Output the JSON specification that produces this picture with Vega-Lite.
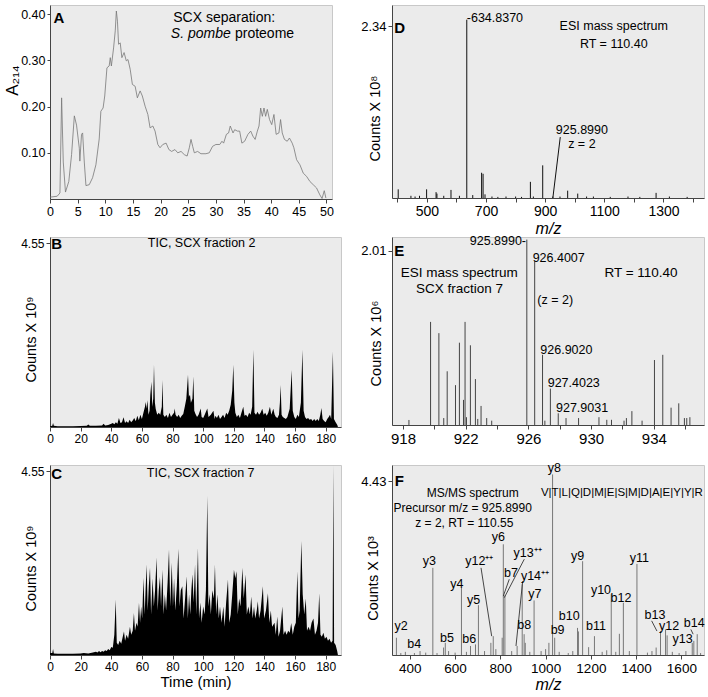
{
  "$schema": "https://vega.github.io/schema/vega-lite/v6.json",
  "padding": {"left": 2, "top": 4, "right": 0, "bottom": 0},
  "background": "white",
  "columns": 2,
  "spacing": {"row": 38, "column": 51},
  "bounds": "flush",
  "config": {
    "font": "Liberation Sans, sans-serif",
    "view": {"fill": "#ebebeb", "stroke": "#c8c8c8", "strokeWidth": 1},
    "axis": {"labelFont": "Liberation Sans, sans-serif", "titleFont": "Liberation Sans, sans-serif", "labelFontSize": 12, "titleFontSize": 14.5, "titleFontWeight": "normal", "labelColor": "#000", "titleColor": "#000", "domainColor": "#444", "tickColor": "#444", "tickSize": 4, "labelPadding": 2, "grid": false, "labelFlush": false, "labelOverlap": false},
    "text": {"font": "Liberation Sans, sans-serif", "fontSize": 12, "color": "#000"}
  },
  "concat": [
    {
      "width": 282, "height": 194,
      "encoding": {
        "x": {"field": "t", "type": "quantitative", "scale": {"domain": [0, 51], "nice": false, "zero": false}, "axis": {"values": [0,5,10,15,20,25,30,35,40,45,50], "format": "d", "title": null, "labelFontSize": 12.5}},
        "y": {"field": "a", "type": "quantitative", "scale": {"domain": [0, 0.42], "nice": false}, "axis": {"values": [0.1,0.2,0.3,0.4], "format": ".2f", "labelFontSize": 12.5, "tickSize": 3, "title": "A₂₁₄", "titleX": -38, "titleY": 75, "titleBaseline": "middle", "titleFontSize": 17}}
      },
      "layer": [
        {"data": {"values": [{"t":0,"a":0.004},{"t":1.3,"a":0.006},{"t":1.8,"a":0.013},{"t":2.1,"a":0.219},{"t":2.4,"a":0.08},{"t":2.8,"a":0.015},{"t":3.4,"a":0.038},{"t":3.9,"a":0.096},{"t":4.4,"a":0.18},{"t":4.8,"a":0.16},{"t":5.3,"a":0.11},{"t":5.4,"a":0.082},{"t":5.7,"a":0.14},{"t":5.9,"a":0.143},{"t":6.2,"a":0.08},{"t":6.5,"a":0.029},{"t":7.1,"a":0.031},{"t":7.7,"a":0.046},{"t":8.3,"a":0.074},{"t":8.9,"a":0.13},{"t":9.2,"a":0.19},{"t":9.6,"a":0.197},{"t":9.9,"a":0.223},{"t":10.3,"a":0.284},{"t":10.7,"a":0.288},{"t":10.9,"a":0.306},{"t":11.1,"a":0.288},{"t":11.5,"a":0.327},{"t":11.8,"a":0.364},{"t":12.0,"a":0.407},{"t":12.2,"a":0.385},{"t":12.4,"a":0.335},{"t":12.7,"a":0.338},{"t":13.0,"a":0.306},{"t":13.4,"a":0.317},{"t":13.8,"a":0.299},{"t":14.1,"a":0.302},{"t":14.5,"a":0.281},{"t":14.9,"a":0.248},{"t":15.4,"a":0.244},{"t":15.8,"a":0.219},{"t":16.3,"a":0.234},{"t":16.7,"a":0.223},{"t":17.2,"a":0.201},{"t":17.7,"a":0.183},{"t":18.1,"a":0.154},{"t":18.6,"a":0.158},{"t":19.0,"a":0.147},{"t":19.5,"a":0.118},{"t":19.9,"a":0.111},{"t":20.4,"a":0.118},{"t":21.0,"a":0.121},{"t":21.5,"a":0.107},{"t":22.0,"a":0.103},{"t":22.6,"a":0.107},{"t":23.1,"a":0.1},{"t":23.7,"a":0.103},{"t":24.3,"a":0.096},{"t":24.8,"a":0.093},{"t":25.2,"a":0.111},{"t":25.5,"a":0.129},{"t":25.8,"a":0.114},{"t":26.1,"a":0.1},{"t":26.7,"a":0.103},{"t":27.3,"a":0.098},{"t":28.2,"a":0.098},{"t":28.8,"a":0.1},{"t":29.4,"a":0.114},{"t":30.0,"a":0.118},{"t":30.7,"a":0.118},{"t":31.1,"a":0.125},{"t":31.4,"a":0.121},{"t":31.9,"a":0.14},{"t":32.3,"a":0.143},{"t":32.6,"a":0.158},{"t":33.1,"a":0.143},{"t":33.4,"a":0.15},{"t":33.9,"a":0.147},{"t":34.3,"a":0.147},{"t":34.7,"a":0.121},{"t":35.2,"a":0.125},{"t":35.8,"a":0.14},{"t":36.3,"a":0.147},{"t":36.7,"a":0.136},{"t":37.1,"a":0.129},{"t":37.5,"a":0.147},{"t":37.8,"a":0.158},{"t":38.1,"a":0.197},{"t":38.4,"a":0.179},{"t":38.7,"a":0.197},{"t":39.0,"a":0.179},{"t":39.3,"a":0.194},{"t":39.7,"a":0.172},{"t":40.1,"a":0.161},{"t":40.5,"a":0.183},{"t":40.9,"a":0.14},{"t":41.4,"a":0.143},{"t":41.7,"a":0.172},{"t":42.0,"a":0.143},{"t":42.4,"a":0.129},{"t":42.9,"a":0.125},{"t":43.3,"a":0.132},{"t":43.8,"a":0.121},{"t":44.1,"a":0.111},{"t":44.6,"a":0.085},{"t":45.2,"a":0.074},{"t":45.8,"a":0.056},{"t":46.4,"a":0.049},{"t":47.0,"a":0.038},{"t":47.6,"a":0.031},{"t":48.2,"a":0.024},{"t":48.8,"a":0.009},{"t":49.2,"a":0.001},{"t":49.6,"a":0.018},{"t":49.9,"a":0.002}]},
         "mark": {"type": "line", "color": "#777", "strokeWidth": 0.8}},
        {"data": {"values": [{"t":1.63,"a":0.392,"s":"A"}]}, "mark": {"type": "text", "fontWeight": "bold", "fontSize": 15}, "encoding": {"text": {"field": "s"}}},
        {"data": {"values": [{"t":31.5,"a":0.3925,"s":"SCX separation:"}]}, "mark": {"type": "text", "fontSize": 14}, "encoding": {"text": {"field": "s"}}},
        {"data": {"values": [{"t":32.7,"a":0.3566,"s":"S. pombe"}]}, "mark": {"type": "text", "fontSize": 14, "fontStyle": "italic", "align": "right"}, "encoding": {"text": {"field": "s"}}},
        {"data": {"values": [{"t":33.45,"a":0.3566,"s":"proteome"}]}, "mark": {"type": "text", "fontSize": 14, "align": "left"}, "encoding": {"text": {"field": "s"}}}
      ]
    },
    {
      "width": 312, "height": 193,
      "encoding": {
        "x": {"field": "mz", "type": "quantitative", "scale": {"domain": [382, 1437], "nice": false, "zero": false}, "axis": {"values": [400,500,600,700,800,900,1000,1100,1200,1300,1400], "format": "d", "labelExpr": "datum.value % 200 == 100 ? datum.label : ''", "labelFontSize": 14, "title": "m/z", "titleFontStyle": "italic", "titleY": 35, "titleBaseline": "alphabetic", "titleFontSize": 16}},
        "y": {"field": "v", "type": "quantitative", "scale": {"domain": [0, 2.63], "nice": false}, "axis": {"values": [2.34], "format": ".2f", "labelFontSize": 13, "title": "Counts X 10⁸", "titleX": -17, "titleY": 113, "titleBaseline": "middle"}}
      },
      "layer": [
        {"data": {"values": [{"mz":403,"v":0.118},{"mz":446,"v":0.03},{"mz":460,"v":0.02},{"mz":475,"v":0.03},{"mz":499,"v":0.118},{"mz":531,"v":0.08},{"mz":534,"v":0.06},{"mz":557,"v":0.03},{"mz":581.5,"v":0.11},{"mz":610,"v":0.03},{"mz":634.837,"v":2.43},{"mz":655,"v":0.04},{"mz":685,"v":0.344},{"mz":690,"v":0.33},{"mz":696.5,"v":0.05},{"mz":720,"v":0.02},{"mz":740,"v":0.015},{"mz":767.5,"v":0.02},{"mz":800,"v":0.02},{"mz":820,"v":0.015},{"mz":850,"v":0.22},{"mz":860,"v":0.02},{"mz":891.6,"v":0.445},{"mz":925.899,"v":0.02},{"mz":950,"v":0.02},{"mz":976,"v":0.1},{"mz":1010,"v":0.06},{"mz":1040,"v":0.02},{"mz":1063,"v":0.02},{"mz":1120,"v":0.015},{"mz":1180,"v":0.02},{"mz":1220,"v":0.015},{"mz":1275,"v":0.07},{"mz":1320,"v":0.02},{"mz":1380,"v":0.015}]},
         "mark": {"type": "rule", "color": "#111", "strokeWidth": 1}, "encoding": {"y2": {"datum": 0}}},
        {"data": {"values": [{"mz":951,"v":0.83,"mz2":925.9,"v2":0}]}, "mark": {"type": "rule", "color": "#111", "strokeWidth": 1}, "encoding": {"x2": {"field": "mz2"}, "y2": {"field": "v2"}}},
        {"data": {"values": [{"mz":408,"v":2.317,"s":"D"}]}, "mark": {"type": "text", "fontWeight": "bold", "fontSize": 15}, "encoding": {"text": {"field": "s"}}},
        {"data": {"values": [{"mz":634.837,"v":2.45,"s":"-634.8370"}]}, "mark": {"type": "text", "fontSize": 12.5, "align": "left"}, "encoding": {"text": {"field": "s"}}},
        {"data": {"values": [{"mz":1132,"v":2.34,"s":"ESI mass spectrum"},{"mz":1132,"v":2.1,"s":"RT = 110.40"},{"mz":1024,"v":0.92,"s":"925.8990"},{"mz":1024,"v":0.74,"s":"z = 2"}]}, "mark": {"type": "text", "fontSize": 12.5}, "encoding": {"text": {"field": "s"}}}
      ]
    },
    {
      "width": 291, "height": 190,
      "encoding": {
        "x": {"field": "t", "type": "quantitative", "scale": {"domain": [0, 190], "nice": false, "zero": false}, "axis": {"values": [0,20,40,60,80,100,120,140,160,180], "format": "d", "title": null, "labelFontSize": 12}},
        "y": {"field": "v", "type": "quantitative", "scale": {"domain": [0, 4.7], "nice": false}, "axis": {"values": [4.55], "format": ".2f", "labelFontSize": 12, "title": "Counts X 10⁹", "titleX": -19, "titleY": 102, "titleBaseline": "middle"}}
      },
      "layer": [
        {"data": {"values": [{"t":0,"v":0.02},{"t":1.5,"v":0.03},{"t":2,"v":0.1},{"t":2.5,"v":0.03},{"t":5,"v":0.02},{"t":10,"v":0.02},{"t":15,"v":0.02},{"t":20,"v":0.025},{"t":24,"v":0.03},{"t":25,"v":0.06},{"t":26,"v":0.03},{"t":30,"v":0.03},{"t":34,"v":0.04},{"t":35,"v":0.08},{"t":36,"v":0.04},{"t":38,"v":0.05},{"t":40,"v":0.08},{"t":41,"v":0.1},{"t":42,"v":0.07},{"t":43,"v":0.12},{"t":44,"v":0.08},{"t":45,"v":0.22},{"t":46,"v":0.1},{"t":47,"v":0.12},{"t":48,"v":0.24},{"t":49,"v":0.1},{"t":50,"v":0.14},{"t":51,"v":0.1},{"t":52,"v":0.18},{"t":53,"v":0.12},{"t":54,"v":0.16},{"t":55,"v":0.22},{"t":56,"v":0.14},{"t":57,"v":0.28},{"t":58,"v":0.17},{"t":59,"v":0.3},{"t":60,"v":0.2},{"t":61,"v":0.35},{"t":62,"v":0.5},{"t":62.5,"v":0.62},{"t":63,"v":0.45},{"t":63.6,"v":0.66},{"t":64.3,"v":0.3},{"t":65,"v":0.4},{"t":65.5,"v":0.8},{"t":66.2,"v":1.12},{"t":66.8,"v":0.5},{"t":67.4,"v":0.7},{"t":67.9,"v":1.54},{"t":68.5,"v":0.6},{"t":69,"v":0.45},{"t":70,"v":0.3},{"t":71,"v":0.35},{"t":72,"v":0.3},{"t":73,"v":0.5},{"t":73.4,"v":1.16},{"t":74,"v":0.3},{"t":75,"v":0.25},{"t":76,"v":0.3},{"t":77,"v":0.22},{"t":78,"v":0.35},{"t":79,"v":0.25},{"t":80,"v":0.3},{"t":81,"v":0.35},{"t":81.4,"v":0.46},{"t":82,"v":0.3},{"t":83,"v":0.25},{"t":84,"v":0.3},{"t":85,"v":0.22},{"t":86,"v":0.28},{"t":87,"v":0.32},{"t":88,"v":0.5},{"t":89,"v":0.7},{"t":90.1,"v":1.29},{"t":90.7,"v":0.75},{"t":91.4,"v":0.8},{"t":92,"v":0.6},{"t":93,"v":0.7},{"t":93.6,"v":1.25},{"t":94.2,"v":0.4},{"t":95,"v":0.32},{"t":96,"v":0.25},{"t":97,"v":0.3},{"t":98.4,"v":0.46},{"t":99,"v":0.25},{"t":100,"v":0.22},{"t":101,"v":0.3},{"t":102.7,"v":0.46},{"t":103.5,"v":0.25},{"t":105,"v":0.3},{"t":106.7,"v":0.4},{"t":107.5,"v":0.2},{"t":108,"v":0.28},{"t":109,"v":0.22},{"t":110,"v":0.3},{"t":111,"v":0.2},{"t":112,"v":0.25},{"t":113,"v":0.3},{"t":114,"v":0.22},{"t":115,"v":0.35},{"t":116,"v":0.3},{"t":117,"v":0.4},{"t":118,"v":0.55},{"t":119,"v":0.9},{"t":119.7,"v":1.54},{"t":120.4,"v":0.6},{"t":121,"v":0.35},{"t":122,"v":0.25},{"t":123,"v":0.3},{"t":124,"v":0.22},{"t":125,"v":0.35},{"t":126.2,"v":0.5},{"t":127,"v":0.28},{"t":128,"v":0.3},{"t":129,"v":0.25},{"t":130,"v":0.35},{"t":131,"v":0.3},{"t":132,"v":0.5},{"t":132.8,"v":1.91},{"t":133.5,"v":0.35},{"t":134.5,"v":0.3},{"t":135.5,"v":0.38},{"t":136.5,"v":0.3},{"t":137.5,"v":0.35},{"t":138.6,"v":0.45},{"t":139.5,"v":0.3},{"t":140.5,"v":0.35},{"t":141.5,"v":0.28},{"t":142.5,"v":0.35},{"t":143.6,"v":0.5},{"t":144.5,"v":0.3},{"t":145.8,"v":0.45},{"t":146.7,"v":0.3},{"t":147.5,"v":0.25},{"t":148.5,"v":0.22},{"t":149.5,"v":0.3},{"t":150.1,"v":0.6},{"t":150.6,"v":1.04},{"t":151.2,"v":0.3},{"t":152,"v":0.25},{"t":153,"v":0.22},{"t":154,"v":0.2},{"t":155,"v":0.25},{"t":156.5,"v":0.45},{"t":157.8,"v":1.41},{"t":158.5,"v":0.4},{"t":159.5,"v":0.25},{"t":160.5,"v":0.2},{"t":161.5,"v":0.3},{"t":162.5,"v":0.25},{"t":163.8,"v":0.6},{"t":164.8,"v":1.91},{"t":165.6,"v":0.4},{"t":166.5,"v":0.25},{"t":167.5,"v":0.2},{"t":168.5,"v":0.22},{"t":169.5,"v":0.18},{"t":170.5,"v":0.2},{"t":171.5,"v":0.15},{"t":172.5,"v":0.2},{"t":173.5,"v":0.15},{"t":174.5,"v":0.2},{"t":175.5,"v":0.15},{"t":176.5,"v":0.3},{"t":177.2,"v":0.47},{"t":178,"v":0.2},{"t":179,"v":0.15},{"t":180,"v":0.12},{"t":181,"v":0.2},{"t":182,"v":0.25},{"t":182.8,"v":0.3},{"t":183.6,"v":0.2},{"t":184.7,"v":1.87},{"t":185.4,"v":0.2},{"t":186.5,"v":0.12},{"t":187.6,"v":0.05},{"t":188,"v":0}]},
         "mark": {"type": "area", "color": "#000", "interpolate": "linear"}},
        {"data": {"values": [{"t":4.4,"v":4.53,"s":"B"}]}, "mark": {"type": "text", "fontWeight": "bold", "fontSize": 15}, "encoding": {"text": {"field": "s"}}},
        {"data": {"values": [{"t":99,"v":4.56,"s":"TIC, SCX fraction 2"}]}, "mark": {"type": "text", "fontSize": 12.5}, "encoding": {"text": {"field": "s"}}}
      ]
    },
    {
      "width": 312, "height": 188,
      "encoding": {
        "x": {"field": "mz", "type": "quantitative", "scale": {"domain": [917.3, 937.2], "nice": false, "zero": false}, "axis": {"values": [918,920,922,924,926,928,930,932,934,936], "format": "d", "labelExpr": "(datum.value - 918) % 4 == 0 ? datum.label : ''", "labelFontSize": 15, "title": null}},
        "y": {"field": "v", "type": "quantitative", "scale": {"domain": [0, 2.17], "nice": false}, "axis": {"values": [2.01], "format": ".2f", "labelFontSize": 13, "title": "Counts X 10⁶", "titleX": -16, "titleY": 106, "titleBaseline": "middle"}}
      },
      "layer": [
        {"data": {"values": [{"mz":918.38,"v":0.058},{"mz":919.76,"v":1.19},{"mz":920.29,"v":1.06},{"mz":920.6,"v":0.08},{"mz":920.82,"v":0.62},{"mz":921.35,"v":0.46},{"mz":921.6,"v":0.95},{"mz":921.86,"v":0.29},{"mz":921.96,"v":1.19},{"mz":922.05,"v":0.09},{"mz":922.3,"v":0.92},{"mz":922.62,"v":0.53},{"mz":922.77,"v":0.07},{"mz":922.98,"v":0.22},{"mz":923.34,"v":0.08},{"mz":923.66,"v":0.05},{"mz":925.899,"v":2.14},{"mz":926.4007,"v":1.89},{"mz":926.902,"v":0.81},{"mz":927.05,"v":0.05},{"mz":927.4023,"v":0.42},{"mz":927.9031,"v":0.135},{"mz":928.4,"v":0.08},{"mz":929.2,"v":0.08},{"mz":930.5,"v":0.09},{"mz":931.0,"v":0.06},{"mz":931.3,"v":0.06},{"mz":932.1,"v":0.05},{"mz":932.25,"v":0.08},{"mz":932.6,"v":0.16},{"mz":933.25,"v":0.05},{"mz":934.04,"v":0.75},{"mz":934.57,"v":0.81},{"mz":935.1,"v":0.2},{"mz":935.59,"v":0.25},{"mz":935.95,"v":0.08},{"mz":936.1,"v":0.08},{"mz":936.3,"v":0.09}]},
         "mark": {"type": "rule", "color": "#444", "strokeWidth": 1}, "encoding": {"y2": {"datum": 0}}},
        {"data": {"values": [{"mz":917.77,"v":2.01,"s":"E"}]}, "mark": {"type": "text", "fontWeight": "bold", "fontSize": 15}, "encoding": {"text": {"field": "s"}}},
        {"data": {"values": [{"mz":925.85,"v":2.12,"s":"925.8990-"}]}, "mark": {"type": "text", "fontSize": 12.5, "align": "right"}, "encoding": {"text": {"field": "s"}}},
        {"data": {"values": [{"mz":926.27,"v":1.93,"s":"926.4007"},{"mz":926.76,"v":0.87,"s":"926.9020"},{"mz":927.23,"v":0.49,"s":"927.4023"},{"mz":927.76,"v":0.2,"s":"927.9031"}]}, "mark": {"type": "text", "fontSize": 12.5, "align": "left"}, "encoding": {"text": {"field": "s"}}},
        {"data": {"values": [{"mz":927.71,"v":1.44,"s":"(z = 2)"}]}, "mark": {"type": "text", "fontSize": 12.5}, "encoding": {"text": {"field": "s"}}},
        {"data": {"values": [{"mz":921.59,"v":1.76,"s":"ESI mass spectrum"},{"mz":921.6,"v":1.57,"s":"SCX fraction 7"},{"mz":933.18,"v":1.76,"s":"RT = 110.40"}]}, "mark": {"type": "text", "fontSize": 13.5}, "encoding": {"text": {"field": "s"}}}
      ]
    },
    {
      "width": 291, "height": 190,
      "encoding": {
        "x": {"field": "t", "type": "quantitative", "scale": {"domain": [0, 190], "nice": false, "zero": false}, "axis": {"values": [0,20,40,60,80,100,120,140,160,180], "format": "d", "labelFontSize": 12, "title": "Time (min)", "titleY": 31, "titleBaseline": "alphabetic", "titleFontSize": 15}},
        "y": {"field": "v", "type": "quantitative", "scale": {"domain": [0, 4.7], "nice": false}, "axis": {"values": [4.55], "format": ".2f", "labelFontSize": 12, "title": "Counts X 10⁹", "titleX": -19, "titleY": 103, "titleBaseline": "middle"}}
      },
      "layer": [
        {"data": {"values": [{"t":0,"v":0.05},{"t":1.5,"v":0.05},{"t":2,"v":0.15},{"t":2.5,"v":0.04},{"t":5,"v":0.03},{"t":10,"v":0.03},{"t":15,"v":0.03},{"t":20,"v":0.04},{"t":22,"v":0.05},{"t":25,"v":0.04},{"t":28,"v":0.06},{"t":30,"v":0.08},{"t":31,"v":0.06},{"t":32,"v":0.1},{"t":33,"v":0.07},{"t":34,"v":0.1},{"t":35,"v":0.08},{"t":36,"v":0.12},{"t":37,"v":0.1},{"t":38,"v":0.15},{"t":39,"v":0.12},{"t":40,"v":0.2},{"t":41,"v":0.18},{"t":42,"v":0.5},{"t":42.9,"v":1.37},{"t":43.6,"v":0.3},{"t":44.5,"v":0.25},{"t":45.5,"v":0.35},{"t":46.5,"v":0.28},{"t":47.5,"v":0.45},{"t":48.3,"v":0.58},{"t":49,"v":0.35},{"t":50,"v":0.5},{"t":51,"v":0.4},{"t":52.2,"v":0.7},{"t":53,"v":0.5},{"t":54,"v":0.6},{"t":54.8,"v":1.04},{"t":55.5,"v":0.6},{"t":56.5,"v":0.8},{"t":57.2,"v":0.7},{"t":58.1,"v":1.29},{"t":58.8,"v":0.8},{"t":59.5,"v":1.2},{"t":60.2,"v":0.9},{"t":61,"v":1.91},{"t":61.8,"v":1.0},{"t":62.4,"v":1.6},{"t":63.1,"v":2.24},{"t":63.8,"v":1.1},{"t":64.5,"v":1.7},{"t":65.3,"v":2.16},{"t":66,"v":1.0},{"t":67,"v":1.9},{"t":67.8,"v":1.2},{"t":68.6,"v":1.6},{"t":69.6,"v":2.41},{"t":70.3,"v":1.1},{"t":71,"v":1.6},{"t":71.8,"v":1.93},{"t":72.5,"v":1.2},{"t":73.4,"v":2.11},{"t":74.2,"v":1.0},{"t":75,"v":1.5},{"t":75.8,"v":1.1},{"t":76.8,"v":1.8},{"t":77.7,"v":2.61},{"t":78.5,"v":1.2},{"t":79.5,"v":2.28},{"t":80.3,"v":1.2},{"t":81,"v":1.9},{"t":81.8,"v":1.1},{"t":82.8,"v":1.7},{"t":83.8,"v":2.63},{"t":84.6,"v":1.2},{"t":85.4,"v":1.6},{"t":86.4,"v":1.7},{"t":87.2,"v":0.9},{"t":88.2,"v":1.4},{"t":89.2,"v":1.95},{"t":90,"v":0.9},{"t":90.8,"v":1.5},{"t":91.6,"v":1.0},{"t":92.3,"v":1.6},{"t":93,"v":2.0},{"t":93.8,"v":1.3},{"t":94.7,"v":2.24},{"t":95.5,"v":1.0},{"t":96.6,"v":2.65},{"t":97.3,"v":0.9},{"t":98.2,"v":1.3},{"t":99,"v":0.8},{"t":100,"v":1.2},{"t":101,"v":1.0},{"t":101.8,"v":1.6},{"t":102.7,"v":3.94},{"t":103.4,"v":1.2},{"t":104.3,"v":1.5},{"t":105,"v":1.0},{"t":106,"v":1.6},{"t":107,"v":1.4},{"t":107.7,"v":2.24},{"t":108.5,"v":1.0},{"t":109.3,"v":1.5},{"t":110.2,"v":0.9},{"t":111,"v":1.2},{"t":112,"v":0.8},{"t":113.2,"v":1.2},{"t":114,"v":0.7},{"t":115,"v":1.3},{"t":116.2,"v":1.87},{"t":117,"v":0.8},{"t":118,"v":1.0},{"t":119,"v":1.5},{"t":120.1,"v":2.11},{"t":121,"v":1.9},{"t":121.8,"v":2.07},{"t":122.6,"v":1.0},{"t":123.5,"v":1.4},{"t":124.4,"v":1.2},{"t":125.6,"v":2.16},{"t":126.5,"v":1.4},{"t":127.7,"v":1.99},{"t":128.5,"v":1.0},{"t":129.5,"v":1.2},{"t":130.5,"v":1.0},{"t":131.4,"v":1.45},{"t":132.3,"v":0.9},{"t":133.2,"v":1.2},{"t":134,"v":0.9},{"t":135,"v":1.1},{"t":135.7,"v":1.33},{"t":136.5,"v":0.9},{"t":137.5,"v":1.1},{"t":139,"v":1.7},{"t":139.8,"v":0.9},{"t":141,"v":1.1},{"t":142.3,"v":1.53},{"t":143.2,"v":0.8},{"t":144.2,"v":1.1},{"t":145,"v":0.7},{"t":146.6,"v":0.8},{"t":147.4,"v":0.5},{"t":148.4,"v":0.95},{"t":149.2,"v":0.45},{"t":150.2,"v":0.6},{"t":151.7,"v":1.2},{"t":152.5,"v":0.5},{"t":153.5,"v":0.6},{"t":154.5,"v":0.5},{"t":155.5,"v":0.6},{"t":156.5,"v":0.55},{"t":157.5,"v":0.79},{"t":158.5,"v":0.5},{"t":159.5,"v":0.7},{"t":160.5,"v":0.8},{"t":161.5,"v":2.07},{"t":162.3,"v":0.9},{"t":163,"v":1.1},{"t":164.1,"v":2.82},{"t":165,"v":1.5},{"t":166,"v":1.0},{"t":167,"v":1.4},{"t":167.8,"v":0.6},{"t":168.8,"v":0.7},{"t":169.8,"v":0.6},{"t":170.8,"v":0.8},{"t":172,"v":0.9},{"t":173,"v":0.5},{"t":174,"v":0.6},{"t":175,"v":0.8},{"t":175.8,"v":1.53},{"t":176.6,"v":0.5},{"t":177.5,"v":0.45},{"t":178.5,"v":0.55},{"t":179.5,"v":0.4},{"t":180.5,"v":0.45},{"t":181.5,"v":0.35},{"t":182.5,"v":0.4},{"t":183.5,"v":0.3},{"t":184.5,"v":0.35},{"t":185,"v":4.7},{"t":185.5,"v":0.3},{"t":186.5,"v":0.25},{"t":187.5,"v":0.1},{"t":188,"v":0}]},
         "mark": {"type": "area", "color": "#000", "interpolate": "linear"}},
        {"data": {"values": [{"t":4.4,"v":4.48,"s":"C"}]}, "mark": {"type": "text", "fontWeight": "bold", "fontSize": 15}, "encoding": {"text": {"field": "s"}}},
        {"data": {"values": [{"t":98.4,"v":4.51,"s":"TIC, SCX fraction 7"}]}, "mark": {"type": "text", "fontSize": 12.5}, "encoding": {"text": {"field": "s"}}}
      ]
    },
    {
      "width": 312, "height": 190,
      "encoding": {
        "x": {"field": "mz", "type": "quantitative", "scale": {"domain": [321, 1700], "nice": false, "zero": false}, "axis": {"values": [400,600,800,1000,1200,1400,1600], "format": "d", "labelFontSize": 13.5, "title": "m/z", "titleFontStyle": "italic", "titleY": 34, "titleBaseline": "alphabetic", "titleFontSize": 16}},
        "y": {"field": "v", "type": "quantitative", "scale": {"domain": [0, 4.84], "nice": false}, "axis": {"values": [4.43], "format": ".2f", "labelFontSize": 13, "title": "Counts X 10³", "titleX": -19, "titleY": 113, "titleBaseline": "middle"}}
      },
      "layer": [
        {"data": {"values": [{"mz":340.5,"v":0.44},{"mz":360,"v":0.05},{"mz":380,"v":0.08},{"mz":420,"v":0.05},{"mz":445,"v":0.1},{"mz":470,"v":0.06},{"mz":501.5,"v":2.22},{"mz":520,"v":0.05},{"mz":549,"v":0.19},{"mz":556.5,"v":0.31},{"mz":571,"v":0.1},{"mz":600,"v":0.06},{"mz":628,"v":1.71},{"mz":650,"v":0.08},{"mz":668,"v":0.23},{"mz":690,"v":0.27},{"mz":703,"v":1.27},{"mz":730,"v":0.1},{"mz":758,"v":0.31},{"mz":768.5,"v":0.48},{"mz":780,"v":0.15},{"mz":808,"v":0.44},{"mz":813,"v":2.82},{"mz":820,"v":1.52},{"mz":850,"v":0.1},{"mz":874,"v":0.23},{"mz":896.5,"v":1.8},{"mz":905,"v":0.53},{"mz":910,"v":0.31},{"mz":930,"v":0.08},{"mz":949,"v":1.39},{"mz":980,"v":0.1},{"mz":1000,"v":0.15},{"mz":1014.5,"v":0.31},{"mz":1030.7,"v":4.6},{"mz":1040,"v":0.44},{"mz":1060,"v":0.08},{"mz":1100,"v":0.05},{"mz":1120,"v":0.1},{"mz":1141,"v":0.69},{"mz":1145,"v":0.6},{"mz":1163.5,"v":2.39},{"mz":1190,"v":0.2},{"mz":1215.8,"v":0.48},{"mz":1250,"v":0.08},{"mz":1270,"v":0.12},{"mz":1290,"v":1.55},{"mz":1310,"v":0.08},{"mz":1326,"v":0.54},{"mz":1343.6,"v":1.33},{"mz":1370,"v":0.1},{"mz":1403.6,"v":2.32},{"mz":1450,"v":0.06},{"mz":1470,"v":0.1},{"mz":1488.5,"v":0.19},{"mz":1507.8,"v":0.61},{"mz":1530,"v":0.65},{"mz":1537,"v":0.5},{"mz":1560,"v":0.08},{"mz":1590,"v":0.05},{"mz":1620,"v":0.1},{"mz":1648,"v":0.31},{"mz":1655,"v":0.36},{"mz":1670,"v":0.53},{"mz":1685,"v":0.05}]},
         "mark": {"type": "rule", "color": "#777", "strokeWidth": 1}, "encoding": {"y2": {"datum": 0}}},
        {"data": {"values": [{"mz":714.5,"v":2.22,"mz2":761.6,"v2":0.48},{"mz":839.3,"v":1.93,"mz2":812.8,"v2":1.5},{"mz":905.6,"v":2.44,"mz2":817.2,"v2":1.46},{"mz":898.6,"v":1.88,"mz2":869,"v2":0.23},{"mz":1468.6,"v":0.87,"mz2":1492,"v2":0.61},{"mz":1642,"v":0.65,"mz2":1652,"v2":0.53}]}, "mark": {"type": "rule", "color": "#333", "strokeWidth": 0.9}, "encoding": {"x2": {"field": "mz2"}, "y2": {"field": "v2"}}},
        {"data": {"values": [{"mz":353,"v":4.43,"s":"F"}]}, "mark": {"type": "text", "fontWeight": "bold", "fontSize": 15}, "encoding": {"text": {"field": "s"}}},
        {"data": {"values": [{"mz":677.6,"v":4.13,"s":"MS/MS spectrum"},{"mz":633.4,"v":3.75,"s":"Precursor m/z = 925.8990"},{"mz":640.5,"v":3.37,"s":"z = 2, RT = 110.55"}]}, "mark": {"type": "text", "fontSize": 12}, "encoding": {"text": {"field": "s"}}},
        {"data": {"values": [{"mz":1337,"v":4.13,"s":"V|T|L|Q|D|M|E|S|M|D|A|E|Y|Y|R"}]}, "mark": {"type": "text", "fontSize": 11.5}, "encoding": {"text": {"field": "s"}}},
        {"data": {"values": [{"mz":360.8,"v":0.74,"s":"y2"},{"mz":419.5,"v":0.29,"s":"b4"},{"mz":485.8,"v":2.39,"s":"y3"},{"mz":564,"v":0.44,"s":"b5"},{"mz":608,"v":1.82,"s":"y4"},{"mz":662.6,"v":0.4,"s":"b6"},{"mz":682,"v":1.39,"s":"y5"},{"mz":706.8,"v":2.39,"s":"y12⁺⁺"},{"mz":790.7,"v":3.0,"s":"y6"},{"mz":846.9,"v":2.08,"s":"b7"},{"mz":920.6,"v":2.6,"s":"y13⁺⁺"},{"mz":952.9,"v":2.01,"s":"y14⁺⁺"},{"mz":952.9,"v":1.56,"s":"y7"},{"mz":905.6,"v":0.76,"s":"b8"},{"mz":1038,"v":4.77,"s":"y8"},{"mz":1053,"v":0.63,"s":"b9"},{"mz":1104.5,"v":0.99,"s":"b10"},{"mz":1141.6,"v":2.52,"s":"y9"},{"mz":1222.5,"v":0.74,"s":"b11"},{"mz":1244.6,"v":1.65,"s":"y10"},{"mz":1333,"v":1.46,"s":"b12"},{"mz":1413.8,"v":2.48,"s":"y11"},{"mz":1483,"v":1.02,"s":"b13"},{"mz":1546,"v":0.74,"s":"y12"},{"mz":1605,"v":0.4,"s":"y13"},{"mz":1656.8,"v":0.82,"s":"b14"}]}, "mark": {"type": "text", "fontSize": 12.5}, "encoding": {"text": {"field": "s"}}}
      ]
    }
  ]
}
